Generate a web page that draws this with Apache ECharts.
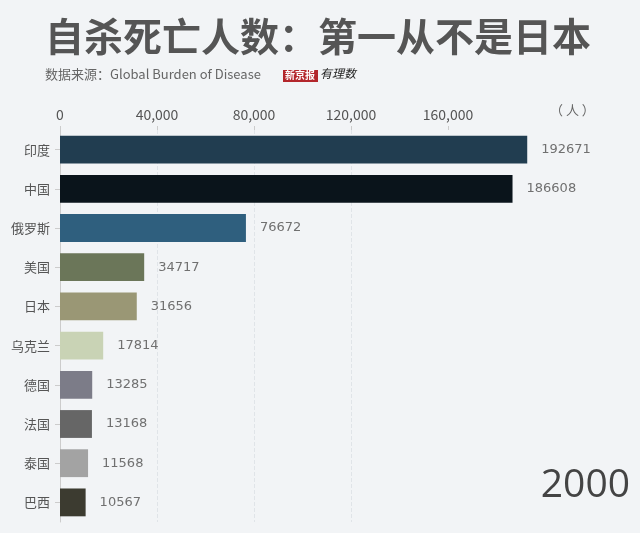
<!DOCTYPE html>
<html>
<head>
<meta charset="utf-8">
<script src="https://cdn.jsdelivr.net/npm/echarts@6/dist/echarts.min.js"></script>
<style>
  html, body { margin: 0; padding: 0; background: #f2f4f6; }
  #chart { width: 640px; height: 533px; }
</style>
</head>
<body>
<div id="chart"></div>
<script>
const countries = ['印度', '中国', '俄罗斯', '美国', '日本', '乌克兰', '德国', '法国', '泰国', '巴西'];
const deaths = [192671, 186608, 76672, 34717, 31656, 17814, 13285, 13168, 11568, 10567];
const barColors = ['#213d50', '#0a141b', '#2f5f7e', '#6b7659', '#9a9775', '#c9d3b5', '#7c7c88', '#666666', '#a3a3a3', '#3c3b30'];
const xTicks = [0, 40000, 80000, 120000, 160000];
const year = '2000';

const chart = echarts.init(document.getElementById('chart'));

const cjk = '"Noto Sans CJK SC", sans-serif';

chart.setOption({
  backgroundColor: '#f2f4f6',
  animation: false,
  title: [
    {
      text: '自杀死亡人数：第一从不是日本',
      left: 45,
      top: 17,
      padding: 0,
      textStyle: { fontFamily: cjk, fontSize: 39, fontWeight: 'bold', color: '#555555' }
    },
    {
      text: '数据来源：Global Burden of Disease',
      left: 45,
      top: 68,
      padding: 0,
      textStyle: { fontFamily: cjk, fontSize: 13, fontWeight: 'normal', color: '#666666' }
    },
    {
      text: '（ 人 ）',
      left: 550,
      top: 104,
      padding: 0,
      textStyle: { fontFamily: cjk, fontSize: 13, fontWeight: 'normal', color: '#666666' }
    }
  ],
  graphic: [
    { type: 'rect', left: 283, top: 70, shape: { width: 35, height: 12 }, style: { fill: '#b3262b' } },
    { type: 'text', left: 285, top: 70, style: { text: '新京报', fill: '#ffffff', font: 'bold 10px "Noto Sans CJK SC"' } },
    { type: 'text', left: 320, top: 67, style: { text: '有理数', fill: '#222222', font: 'italic 12px "Noto Sans CJK SC"' } },
    { type: 'text', right: 10, top: 466, style: { text: year, fill: '#444444', font: '39px "Open Sans"' } }
  ],
  grid: { left: 60, right: 95, top: 130, bottom: 11 },
  xAxis: {
    type: 'value',
    position: 'top',
    min: 0,
    max: 200000,
    interval: 40000,
    axisLine: { show: false },
    axisTick: { show: true, length: 4, customValues: xTicks, lineStyle: { color: '#cccccc' } },
    axisLabel: {
      customValues: xTicks,
      margin: 8,
      color: '#555555',
      fontSize: 14,
      fontFamily: cjk,
      formatter: v => v.toLocaleString('en-US')
    },
    splitLine: {
      show: true,
      showMinLine: false,
      showMaxLine: false,
      lineStyle: { color: '#e0e4e8', type: 'dashed', width: 1 }
    }
  },
  yAxis: {
    type: 'category',
    inverse: true,
    data: countries,
    axisLine: { show: true, lineStyle: { color: '#cccccc' } },
    axisTick: { show: true, alignWithLabel: true, length: 5, lineStyle: { color: '#cccccc' } },
    axisLabel: { margin: 10, color: '#555555', fontSize: 13, fontFamily: cjk }
  },
  series: [{
    type: 'bar',
    data: deaths.map((v, i) => ({ value: v, itemStyle: { color: barColors[i] } })),
    barCategoryGap: '29%',
    label: {
      show: true,
      position: 'right',
      distance: 14,
      color: '#707070',
      fontSize: 13,
      fontFamily: '"DejaVu Sans", sans-serif'
    }
  }]
});
</script>
</body>
</html>
